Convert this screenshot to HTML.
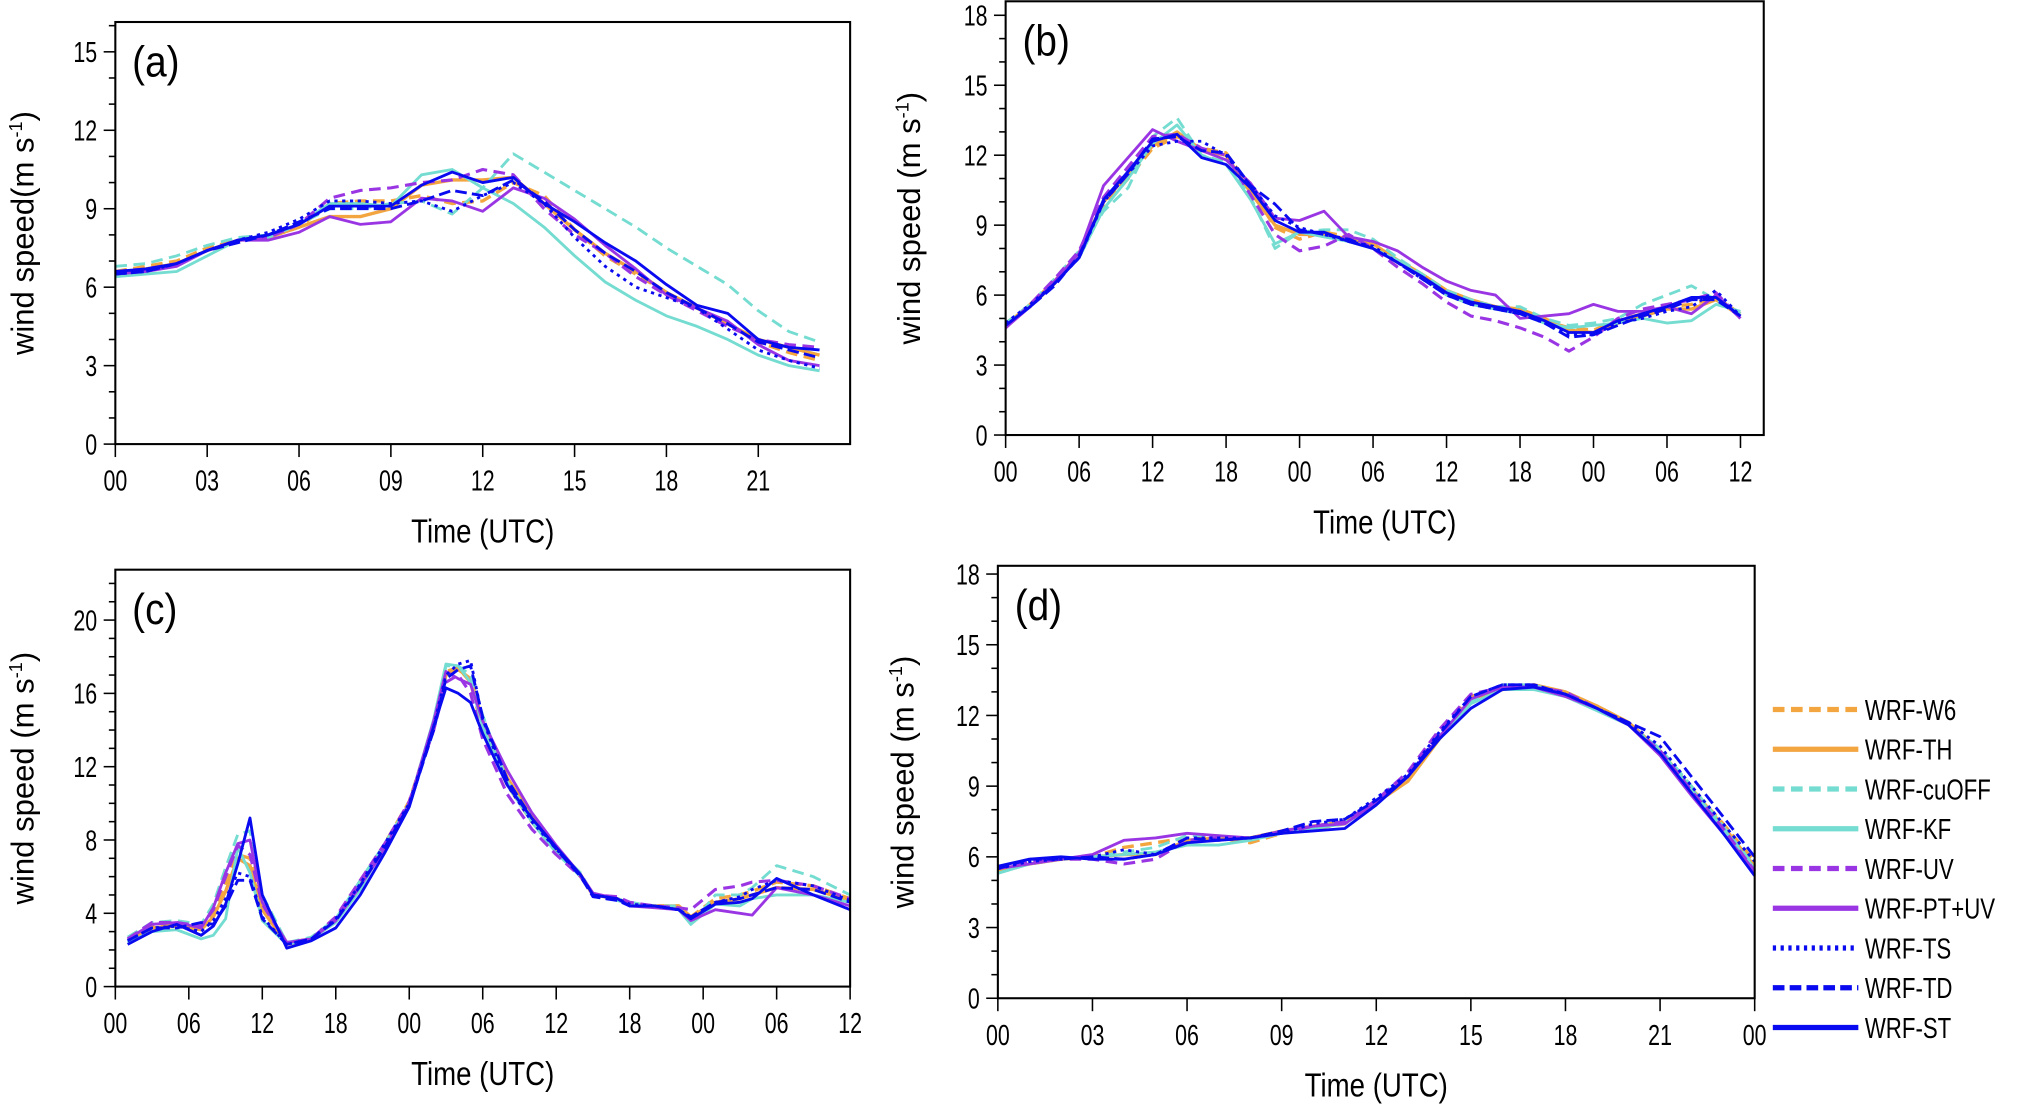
<!DOCTYPE html>
<html><head><meta charset="utf-8"><style>
html,body{margin:0;padding:0;background:#fff;}
svg{display:block;}
text{font-family:"Liberation Sans",sans-serif;fill:#000;}
</style></head><body>
<svg id="chart" xmlns="http://www.w3.org/2000/svg" width="2032" height="1107" viewBox="0 0 1568 855" preserveAspectRatio="none"></svg>
<script>
const aHours=[0,1,2,3,4,5,6,7,8,9,10,11,12,13,14,15,16,17,18,19,20,21,22,23];
const aW6=[6.6,6.8,7.0,7.5,7.8,7.9,8.3,9.2,9.3,9.3,9.5,9.2,9.3,10.0,9.5,8.2,7.2,6.5,5.8,5.2,4.6,3.9,3.5,3.2];
const aTH=[6.5,6.7,6.9,7.4,7.8,7.9,8.3,8.7,8.7,9.0,9.9,10.1,10.1,10.2,9.2,8.2,7.3,6.6,5.8,5.2,4.6,4.0,3.7,3.4];
const aCuOFF=[6.8,6.9,7.2,7.6,7.9,8.0,8.4,9.0,9.0,9.2,9.3,8.8,9.8,11.1,10.4,9.7,9.0,8.3,7.5,6.8,6.1,5.1,4.3,3.9];
const aKF=[6.4,6.5,6.6,7.2,7.8,7.9,8.4,9.2,9.2,9.1,10.3,10.5,9.8,9.2,8.3,7.2,6.2,5.5,4.9,4.5,4.0,3.4,3.0,2.8];
const aUV=[6.6,6.7,6.9,7.4,7.8,7.9,8.4,9.4,9.7,9.8,10.0,10.1,10.5,10.3,9.0,8.0,7.3,6.4,5.7,5.1,4.5,4.0,3.8,3.7];
const aPTUV=[6.5,6.6,6.8,7.4,7.8,7.8,8.1,8.7,8.4,8.5,9.4,9.3,8.9,9.8,9.4,8.6,7.6,6.7,5.7,5.2,4.7,3.8,3.2,3.0];
const aTS=[6.5,6.6,6.9,7.4,7.8,8.1,8.6,9.3,9.3,9.2,9.3,8.9,9.5,10.0,9.2,7.9,6.8,6.0,5.6,5.2,4.4,3.6,3.2,2.9];
const aTD=[6.5,6.6,6.9,7.4,7.7,8.0,8.5,9.0,9.0,9.0,9.3,9.7,9.5,10.1,9.3,8.2,7.3,6.6,5.8,5.2,4.6,3.9,3.6,3.3];
const aST=[6.6,6.7,6.9,7.4,7.8,8.0,8.4,9.1,9.1,9.1,9.9,10.4,10.0,10.2,9.2,8.5,7.7,7.0,6.1,5.3,5.0,4.0,3.7,3.6];

const bHours=[0,2,4,6,8,10,12,14,16,18,20,22,24,26,28,30,32,34,36,38,40,42,44,46,48,50,52,54,56,58,60];
const bTH=[4.7,5.6,6.6,7.8,10.0,11.2,12.4,13.0,12.2,12.0,10.4,9.0,8.6,8.6,8.4,8.2,7.5,6.9,6.2,5.8,5.5,5.4,5.0,4.5,4.4,4.8,5.1,5.4,5.4,5.8,5.1];
const bW6=[4.8,5.5,6.5,7.8,9.8,11.0,12.3,12.8,12.3,12.1,10.6,8.9,8.4,8.7,8.5,8.1,7.4,6.8,6.1,5.7,5.5,5.3,4.9,4.6,4.5,4.9,5.2,5.5,5.6,5.9,5.2];
const bCuOFF=[4.8,5.6,6.7,7.9,9.6,10.6,12.8,13.6,12.0,11.7,10.2,8.0,8.7,8.8,8.8,8.4,7.6,6.9,6.2,5.8,5.5,5.5,5.0,4.7,4.8,5.0,5.6,6.0,6.4,5.8,5.2];
const bKF=[4.7,5.5,6.6,7.6,9.7,11.0,12.5,13.3,12.0,11.6,10.1,8.2,8.7,8.5,8.3,8.0,7.5,6.8,6.0,5.6,5.4,5.2,4.8,4.6,4.7,4.8,5.0,4.8,4.9,5.6,5.3];
const bUV=[4.6,5.6,6.7,7.9,10.2,11.5,12.8,12.9,12.3,12.0,10.3,8.6,7.9,8.1,8.6,8.0,7.2,6.5,5.7,5.1,4.9,4.6,4.2,3.6,4.2,5.0,5.4,5.6,5.8,6.1,5.0];
const bPTUV=[4.6,5.5,6.6,7.8,10.7,11.9,13.1,12.6,12.2,11.8,10.8,9.3,9.2,9.6,8.5,8.3,7.9,7.2,6.6,6.2,6.0,5.0,5.1,5.2,5.6,5.3,5.3,5.5,5.2,6.0,5.0];
const bTS=[4.8,5.6,6.5,7.6,10.0,11.2,12.4,12.6,12.6,12.0,10.7,9.4,8.9,8.6,8.3,8.1,7.4,6.7,6.0,5.6,5.4,5.2,4.8,4.3,4.3,4.8,5.0,5.3,5.5,6.2,5.1];
const bTD=[4.7,5.5,6.4,7.7,10.0,11.2,12.7,12.8,12.2,12.1,10.7,9.9,8.8,8.6,8.4,8.0,7.4,6.7,6.0,5.6,5.4,5.2,4.8,4.2,4.3,4.7,5.1,5.4,5.8,5.8,5.1];
const bST=[4.7,5.5,6.5,7.6,10.1,11.3,12.6,12.9,11.9,11.6,10.6,9.2,8.7,8.7,8.3,8.0,7.4,6.8,6.1,5.7,5.5,5.3,4.9,4.4,4.4,4.9,5.2,5.5,5.9,5.9,5.1];

const cHours=[1,3,5,7,8,9,10,11,12,14,16,18,20,22,24,26,27,28,29,30,32,34,36,38,39,41,42,44,46,47,49,51,52,54,57,60];
const cTH=[2.5,3.2,3.3,3.1,3.8,5.2,7.0,6.6,4.2,2.3,2.6,3.6,5.5,7.6,10.0,14.2,17.0,17.3,16.8,14.5,11.4,9.3,7.6,6.1,5.0,4.8,4.5,4.4,4.4,3.8,4.6,4.8,5.0,5.4,5.3,4.7];
const cW6=[2.6,3.3,3.4,3.2,4.0,5.6,7.2,7.0,4.4,2.4,2.6,3.6,5.6,7.8,10.1,14.3,17.2,17.4,16.6,14.0,11.0,9.0,7.4,6.0,5.0,4.8,4.5,4.4,4.4,3.8,4.8,5.0,5.2,5.7,5.5,4.8];
const cCuOFF=[2.7,3.5,3.6,3.4,4.5,6.5,8.3,8.5,5.0,2.4,2.7,3.7,5.8,7.8,10.0,14.0,17.5,17.5,17.0,14.8,11.2,9.2,7.5,6.2,5.0,4.8,4.6,4.4,4.4,3.4,5.0,5.0,5.4,6.6,6.0,5.0];
const cKF=[2.4,3.0,3.1,2.6,2.8,3.7,7.6,6.2,3.6,2.3,2.6,3.5,5.3,7.7,10.0,14.6,17.6,17.5,16.6,14.2,11.0,9.0,7.3,6.0,5.1,4.7,4.5,4.4,4.2,3.4,4.5,4.4,4.8,5.0,5.0,4.6];
const cUV=[2.6,3.5,3.5,3.3,4.2,6.0,7.7,7.2,4.5,2.4,2.6,3.8,5.8,7.8,10.1,14.0,16.6,17.0,16.0,13.5,10.5,8.6,7.2,6.0,5.0,4.9,4.6,4.4,4.3,4.2,5.3,5.5,5.7,5.8,5.5,4.8];
const cPTUV=[2.6,3.4,3.5,3.2,4.3,6.2,7.8,8.0,4.6,2.4,2.6,3.6,5.5,7.5,10.0,14.5,17.2,16.8,16.5,14.5,11.8,9.5,7.7,6.1,5.1,4.8,4.4,4.3,4.2,3.6,4.2,4.0,3.9,5.4,5.0,4.4];
const cTS=[2.5,3.2,3.3,3.0,3.6,4.8,6.2,6.0,3.8,2.3,2.6,3.7,5.6,7.8,10.0,14.2,17.0,17.6,17.8,14.6,11.0,9.0,7.5,6.1,5.0,4.8,4.5,4.4,4.2,3.8,4.6,4.9,5.3,5.8,5.5,4.7];
const cTD=[2.5,3.2,3.2,3.5,3.4,4.4,5.8,5.8,3.7,2.3,2.6,3.6,5.5,7.6,9.9,14.0,16.8,17.3,17.5,14.7,11.3,9.2,7.5,6.0,4.9,4.7,4.4,4.4,4.2,3.8,4.6,4.8,5.0,5.4,5.3,4.6];
const cST=[2.3,3.0,3.4,2.8,3.3,4.5,6.7,9.2,5.0,2.1,2.5,3.2,5.0,7.3,9.8,14.2,16.3,16.0,15.5,13.8,11.0,9.2,7.6,6.1,5.0,4.8,4.4,4.4,4.2,3.7,4.5,4.6,4.8,5.9,5.0,4.2];

const dHours=[0,1,2,3,4,5,6,7,8,9,10,11,12,13,14,15,16,17,18,19,20,21,22,23,24];
const dTH=[5.4,5.7,5.9,6.0,6.1,6.1,6.7,6.8,6.8,7.1,7.3,7.5,8.3,9.2,11.0,12.7,13.1,13.3,13.0,12.4,11.7,10.5,8.9,7.3,5.6];
const dW6=[5.4,5.7,5.9,6.0,6.4,6.6,6.8,6.8,6.6,7.0,7.2,7.4,8.3,9.4,11.2,12.8,13.2,13.2,12.9,12.4,11.7,10.5,8.9,7.4,5.8];
const dCuOFF=[5.3,5.7,5.9,6.0,6.2,6.4,6.9,6.9,6.7,7.0,7.3,7.5,8.4,9.5,11.2,12.6,13.3,13.3,12.9,12.3,11.6,10.6,9.0,7.3,5.6];
const dKF=[5.3,5.7,5.9,6.0,6.1,6.2,6.5,6.5,6.7,7.0,7.2,7.4,8.3,9.4,11.0,12.5,13.1,13.1,12.8,12.2,11.6,10.5,8.9,7.2,5.5];
const dUV=[5.5,5.8,5.9,5.9,5.7,5.9,6.7,6.8,6.8,7.0,7.3,7.5,8.4,9.6,11.4,12.9,13.2,13.2,13.0,12.3,11.6,10.5,8.8,7.2,5.4];
const dPTUV=[5.5,5.7,5.9,6.1,6.7,6.8,7.0,6.9,6.8,7.1,7.3,7.4,8.3,9.4,11.1,12.7,13.2,13.2,12.8,12.3,11.6,10.3,8.6,7.0,5.4];
const dTS=[5.5,5.8,5.9,6.0,6.3,6.1,6.8,6.8,6.8,7.0,7.4,7.6,8.5,9.5,11.3,12.8,13.3,13.3,12.9,12.3,11.7,10.7,9.0,7.4,5.8];
const dTD=[5.5,5.9,5.9,6.0,5.9,6.1,6.8,6.7,6.8,7.1,7.5,7.6,8.4,9.4,11.2,12.8,13.3,13.3,12.9,12.3,11.7,11.1,9.4,7.7,6.0];
const dST=[5.6,5.9,6.0,5.9,5.9,6.1,6.6,6.7,6.8,7.0,7.1,7.2,8.2,9.4,11.0,12.3,13.1,13.2,12.9,12.3,11.6,10.4,8.7,7.0,5.2];

const seriesNames=["WRF-W6","WRF-TH","WRF-cuOFF","WRF-KF","WRF-UV","WRF-PT+UV","WRF-TS","WRF-TD","WRF-ST"];
const xLabels24=["00","03","06","09","12","15","18","21"];
const xLabels24d=["00","03","06","09","12","15","18","21","00"];
const xLabels60=["00","06","12","18","00","06","12","18","00","06","12"];

const NS="http://www.w3.org/2000/svg";
const svg=document.getElementById('chart');
const styles=[
 {c:"#F3A540",w:2.6,d:"9 5"},{c:"#F3A540",w:2.6,d:""},
 {c:"#74DCD0",w:2.2,d:"9 5"},{c:"#74DCD0",w:2.2,d:""},
 {c:"#9A35E4",w:2.4,d:"9 5"},{c:"#9A35E4",w:2.2,d:""},
 {c:"#0A0AF0",w:2.2,d:"2.5 3.5"},{c:"#0A0AF0",w:2.2,d:"9 4"},{c:"#0A0AF0",w:2.2,d:""}];
function mk(tag,attrs,parent){const e=document.createElementNS(NS,tag);for(const k in attrs)e.setAttribute(k,attrs[k]);(parent||svg).appendChild(e);return e;}
function ntext(parent,x,y,size,sx,anchor,str){
  const t=mk('text',{x:0,y:0,'font-size':size,'text-anchor':anchor,transform:`translate(${x},${y}) scale(${sx},1)`},parent);
  t.textContent=str;return t;
}

function panel(p){
  const g=mk('g',{});
  
  
  const sx=v=>p.x0+(v-p.xmin)/(p.xmax-p.xmin)*(p.x1-p.x0);
  const sy=v=>p.y0-(v)/(p.ymax)*(p.y0-p.y1);
  const sg=mk('g',{},g);
  p.series.forEach((vals,i)=>{
    const st=styles[i];
    const pts=vals.map((v,j)=>sx(p.hours[j]).toFixed(1)+','+sy(v).toFixed(1)).join(' ');
    const pl=mk('polyline',{points:pts,fill:'none',stroke:st.c,'stroke-width':st.w,'stroke-dasharray':st.d,'stroke-linejoin':'round'},sg);
    
    
  });
  const fr=mk('rect',{x:p.x0,y:p.y1,width:p.x1-p.x0,height:p.y0-p.y1,fill:'none',stroke:'#000','stroke-width':1.6},g);
  
  
  const yg=mk('g',{},g);
  
  
  for(let v=0;v<=p.ymax+1e-6;v+=p.yminor){
    const major=Math.abs(v/p.ystep-Math.round(v/p.ystep))<1e-6;
    mk('line',{x1:p.x0,x2:p.x0-(major?9:5),y1:sy(v),y2:sy(v),stroke:'#000','stroke-width':1.2},yg);
    if(major){ntext(yg,p.x0-14,sy(v)+8,22,0.75,'end',String(v));}
  }
  const xg=mk('g',{},g);
  
  
  p.xlabels.forEach((lab,i)=>{
    const xv=p.xmin+i*p.xstep, x=sx(xv);
    mk('line',{x1:x,x2:x,y1:p.y0,y2:p.y0+10,stroke:'#000','stroke-width':1.2},xg);
    ntext(xg,x,p.y0+36,22,0.75,'middle',lab);
  });
  const xt=ntext(g,(p.x0+p.x1)/2,p.y0+76,26,0.82,'middle','Time (UTC)');
  
  
  const cy=(p.y0+p.y1)/2;
  const yt=mk('text',{x:0,y:0,'text-anchor':'middle','font-size':24,transform:`translate(${p.ytx},${cy}) rotate(-90)`},g);
  
  
  yt.innerHTML=p.ytitle+'(m s<tspan dy="-9" font-size="14">-1</tspan><tspan dy="9">)</tspan>';
  const pl=ntext(g,p.x0+13,p.y1+42,34,0.88,'start','('+p.id+')');
  
  
}

panel({id:'a',x0:89,x1:656,y0:343,y1:17,xmin:0,xmax:24,xstep:3,ymax:16.14,ystep:3,yminor:1,hours:aHours,
  series:[aW6,aTH,aCuOFF,aKF,aUV,aPTUV,aTS,aTD,aST],xlabels:xLabels24,ytx:26,ytitle:'wind speed'});
panel({id:'b',x0:776,x1:1361,y0:336,y1:1,xmin:0,xmax:61.9,xstep:6,ymax:18.6,ystep:3,yminor:1,hours:bHours,
  series:[bW6,bTH,bCuOFF,bKF,bUV,bPTUV,bTS,bTD,bST],xlabels:xLabels60,ytx:710,ytitle:'wind speed '});
panel({id:'c',x0:89,x1:656,y0:762,y1:440,xmin:0,xmax:60,xstep:6,ymax:22.75,ystep:4,yminor:1,hours:cHours,
  series:[cW6,cTH,cCuOFF,cKF,cUV,cPTUV,cTS,cTD,cST],xlabels:xLabels60,ytx:26,ytitle:'wind speed '});
panel({id:'d',x0:770,x1:1354,y0:771,y1:437,xmin:0,xmax:24,xstep:3,ymax:18.35,ystep:3,yminor:1,hours:dHours,
  series:[dW6,dTH,dCuOFF,dKF,dUV,dPTUV,dTS,dTD,dST],xlabels:xLabels24d,ytx:705,ytitle:'wind speed '});

const lg=mk('g',{});


seriesNames.forEach((n,i)=>{
  const y=548+i*30.7, st=styles[i];
  const e=mk('g',{},lg);
  
  
  mk('line',{x1:1368,x2:1434,y1:y,y2:y,stroke:st.c,'stroke-width':4,'stroke-dasharray':st.d},e);
  ntext(e,1439,y+8,22,0.78,'start',n);
});
</script>
</body></html>
